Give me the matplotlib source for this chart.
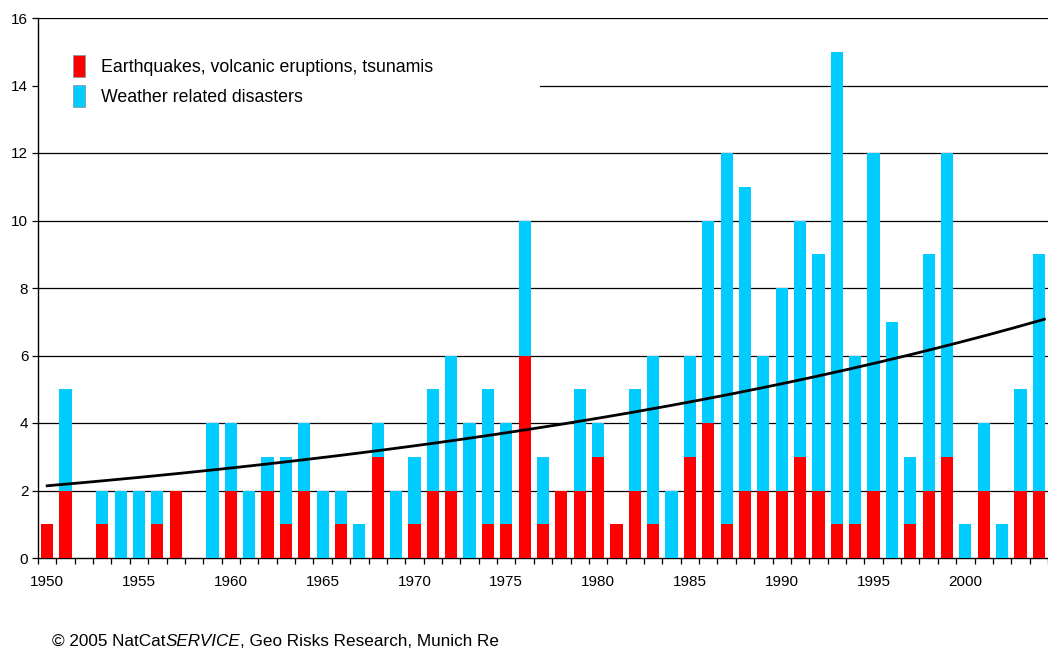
import numpy as np
import matplotlib
matplotlib.use("Agg")
import matplotlib.pyplot as plt
from matplotlib.patches import Patch

plt.rcParams['font.family'] = ['Liberation Sans', 'DejaVu Sans']

years = list(range(1950, 2005))
geo = [1, 2, 0, 1, 0, 0, 1, 2, 0, 0,
       2, 0, 2, 1, 2, 0, 1, 0, 3, 0,
       1, 2, 2, 0, 1, 1, 6, 1, 2, 2,
       3, 1, 2, 1, 0, 3, 4, 1, 2, 2,
       2, 3, 2, 1, 1, 2, 0, 1, 2, 3,
       0, 2, 0, 2, 2]
weather = [0, 3, 0, 1, 2, 2, 1, 0, 0, 4,
           2, 2, 1, 2, 2, 2, 1, 1, 1, 2,
           2, 3, 4, 4, 4, 3, 4, 2, 0, 3,
           1, 0, 3, 5, 2, 3, 6, 11, 9, 4,
           6, 7, 7, 14, 5, 10, 7, 2, 7, 9,
           1, 2, 1, 3, 7]

# trend line values at selected years
trend_years = [1950, 1960, 1970, 1980, 1990, 2000, 2004]
trend_vals = [2.12, 2.7, 3.3, 4.15, 5.2, 6.5, 6.92]

legend_labels = ["Earthquakes, volcanic eruptions, tsunamis", "Weather related disasters"]
footer = ["\u00a9 2005 NatCat", "SERVICE", ", Geo Risks Research, Munich Re"]

RED = "#FF0000"
CYAN = "#00CCFF"

fig = plt.figure(figsize=(10.48, 6.5), dpi=100)
ax = fig.add_axes([38/1048, 92/650, 1 - 38/1048, 540/650])

yrs = np.array(years)
g = np.array(geo)
w = np.array(weather)
ax.bar(yrs, g, width=0.66, color=RED, zorder=3, linewidth=0)
ax.bar(yrs, w, bottom=g, width=0.66, color=CYAN, zorder=3, linewidth=0)

# exponential trend fitted to the read trend points
coef = np.polyfit(np.array(trend_years) - 1950, np.log(trend_vals), 1)
xt = np.linspace(1950, 2004.3, 200)
ax.plot(xt, np.exp(np.polyval(coef, xt - 1950)), color="black", lw=2.0, zorder=4)

ax.set_xlim(1949.5, 2004.3)
ax.set_ylim(0, 16)

# gridlines
for yv in range(2, 17, 2):
    if yv == 14:
        ax.axhline(yv, xmin=0.497, color="black", lw=0.9, zorder=1)
    else:
        ax.axhline(yv, color="black", lw=0.9, zorder=1)

ax.set_yticks(range(0, 17, 2))
ax.tick_params(axis='y', length=4, width=0.9, labelsize=11, pad=3, direction='out')
ax.set_xticks(np.arange(1949.5, 2004.6, 1))
ax.set_xticklabels([])
ax.tick_params(axis='x', which='major', length=4, width=0.9, direction='out')
ax.set_xticks(range(1950, 2001, 5), minor=True)
ax.set_xticklabels([str(y) for y in range(1950, 2001, 5)], minor=True)
ax.tick_params(axis='x', which='minor', length=0, labelsize=11, pad=12)

for s in ['top', 'right']:
    ax.spines[s].set_visible(False)
ax.spines['left'].set_linewidth(1.0)
ax.spines['bottom'].set_linewidth(1.0)

handles = [Patch(facecolor=RED, edgecolor="#8899aa", lw=0.6),
           Patch(facecolor=CYAN, edgecolor="#8899aa", lw=0.6)]
ax.legend(handles, legend_labels, loc='upper left', bbox_to_anchor=(0.028, 0.945),
          frameon=False, fontsize=12.8, handlelength=0.68, handleheight=1.53,
          handletextpad=0.85, labelspacing=0.48, borderaxespad=0)

t1 = fig.text(52/1048, 1 - 641/650, footer[0], fontsize=12.3, va='center')
a2 = ax.annotate(footer[1], xy=(1, 0), xycoords=t1, fontsize=12.3, style='italic',
                 va='bottom', annotation_clip=False)
a3 = ax.annotate(footer[2], xy=(1, 0), xycoords=a2, fontsize=12.3,
                 va='bottom', annotation_clip=False)

fig.savefig("out.png", dpi=100)
